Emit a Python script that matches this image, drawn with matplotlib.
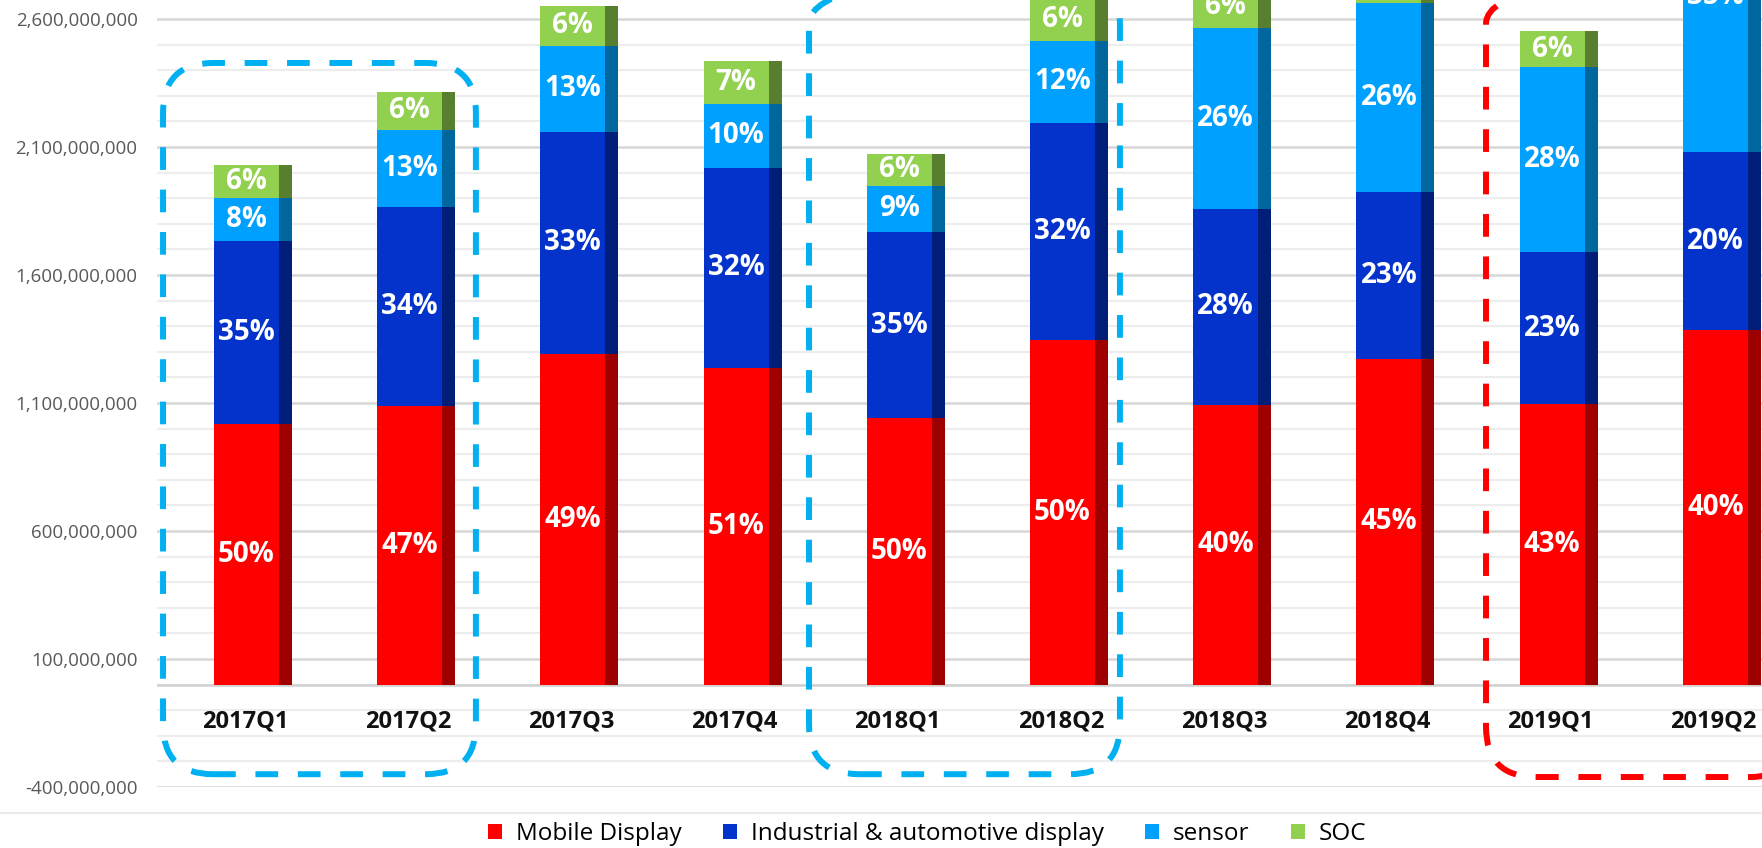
import matplotlib
matplotlib.use("Agg")
import matplotlib.pyplot as plt
import numpy as np
from matplotlib.patches import FancyBboxPatch
from matplotlib.lines import Line2D
from matplotlib.transforms import IdentityTransform

plt.rcParams['font.family'] = ['Open Sans', 'DejaVu Sans']

# ---------------- data (values in millions) ----------------
categories = ["2017Q1", "2017Q2", "2017Q3", "2017Q4", "2018Q1",
              "2018Q2", "2018Q3", "2018Q4", "2019Q1", "2019Q2"]
mobile_display = [1017, 1087, 1290, 1238, 1040, 1346, 1093, 1271, 1095, 1385]
industrial_auto = [714, 780, 870, 781, 729, 848, 765, 652, 595, 695]
sensor = [169, 301, 335, 250, 180, 320, 708, 738, 721, 1215]
soc = [128, 145, 157, 165, 123, 165, 165, 163, 143, 170]
series_names = ["Mobile Display", "Industrial & automotive display", "sensor", "SOC"]
y_major_ticks = [-400, 100, 600, 1100, 1600, 2100, 2600]

# ---------------- style ----------------
face_colors = ["#FF0000", "#0433CC", "#00A0FF", "#92D050"]
side_colors = ["#9E0000", "#001E78", "#00679E", "#587F30"]

W, H = 1762, 848
fig = plt.figure(figsize=(W / 100, H / 100), dpi=100)
ax = fig.add_axes([157 / W, 61 / H, 1 - 157 / W, 1 - 61 / H])
ax.set_xlim(-0.588, 9.246)
ax.set_ylim(-400e6, 2674e6)

for s in ax.spines.values():
    s.set_visible(False)

# gridlines
ax.set_yticks([v * 1e6 for v in y_major_ticks])
ax.set_yticklabels([f"{int(v*1e6):,}" for v in y_major_ticks],
                   color="#595959", fontsize=13.5)
ax.set_yticks(np.arange(-400e6, 2700e6, 100e6), minor=True)
ax.tick_params(axis='y', which='both', length=0, pad=14)
ax.set_xticks([])
ax.grid(which='minor', axis='y', color='#EDEDED', lw=1.6, zorder=0)
ax.grid(which='major', axis='y', color='#D6D6D6', lw=1.8, zorder=0)
ax.axhline(0, color='#D0D0D0', lw=1.8, zorder=1)
ax.set_axisbelow(True)

x = np.arange(len(categories))
series = [mobile_display, industrial_auto, sensor, soc]
totals = np.sum(np.array(series, dtype=float), axis=0)
bottom = np.zeros(len(categories))
front_off, front_w = -0.04, 0.398
side_off, side_w = 0.199, 0.08
handles = []
for vals, name, fc, sc in zip(series, series_names, face_colors, side_colors):
    v = np.array(vals, dtype=float) * 1e6
    b = ax.bar(x + front_off, v, width=front_w, bottom=bottom, color=fc,
               label=name, zorder=3, linewidth=0)
    ax.bar(x + side_off, v, width=side_w, bottom=bottom, color=sc,
           zorder=3, linewidth=0)
    handles.append(b)
    for i in range(len(categories)):
        pct = round(vals[i] / totals[i] * 100)
        ax.text(x[i] + front_off, bottom[i] + v[i] / 2, f"{pct}%",
                ha='center', va='center', color='white', fontsize=20,
                fontweight='bold', zorder=4, clip_on=True)
    bottom = bottom + v

# category labels inside the plot area
for i, c in enumerate(categories):
    ax.text(x[i] - 0.05, -146e6, c, ha='center', va='center',
            fontsize=17, fontweight='bold', color='#111111', zorder=4)

# dashed rounded highlight boxes (positioned in category / value units)
boxes = [
    ((-0.551, -350e6), (1.366, 2428e6), "#00B0F0"),
    ((3.407, -350e6), (5.312, 2776e6), "#00B0F0"),
    ((7.555, -361e6), (9.48, 2776e6), "#FF0000"),
]
for (x0, y0), (x1, y1), col in boxes:
    p0 = ax.transData.transform((x0, y0))
    p1 = ax.transData.transform((x1, y1))
    patch = FancyBboxPatch((p0[0], p0[1]), p1[0] - p0[0], p1[1] - p0[1],
                           boxstyle="round,pad=0,rounding_size=50",
                           transform=IdentityTransform(), fill=False,
                           edgecolor=col, lw=4.3, linestyle=(0, (3.8, 3.3)),
                           clip_on=False, zorder=6)
    fig.add_artist(patch)

# faint separator line below the plot
fig.add_artist(Line2D([0, 1], [35 / H, 35 / H], color='#EBEBEB', lw=1.5,
                      transform=fig.transFigure))

fig.legend(handles=handles, labels=series_names, loc='center',
           bbox_to_anchor=(927 / W, 14 / H), ncol=4, frameon=False,
           fontsize=17.5, handlelength=0.6, handleheight=0.6,
           handletextpad=0.55, columnspacing=1.7, borderpad=0)

fig.savefig("out.png", dpi=100)
